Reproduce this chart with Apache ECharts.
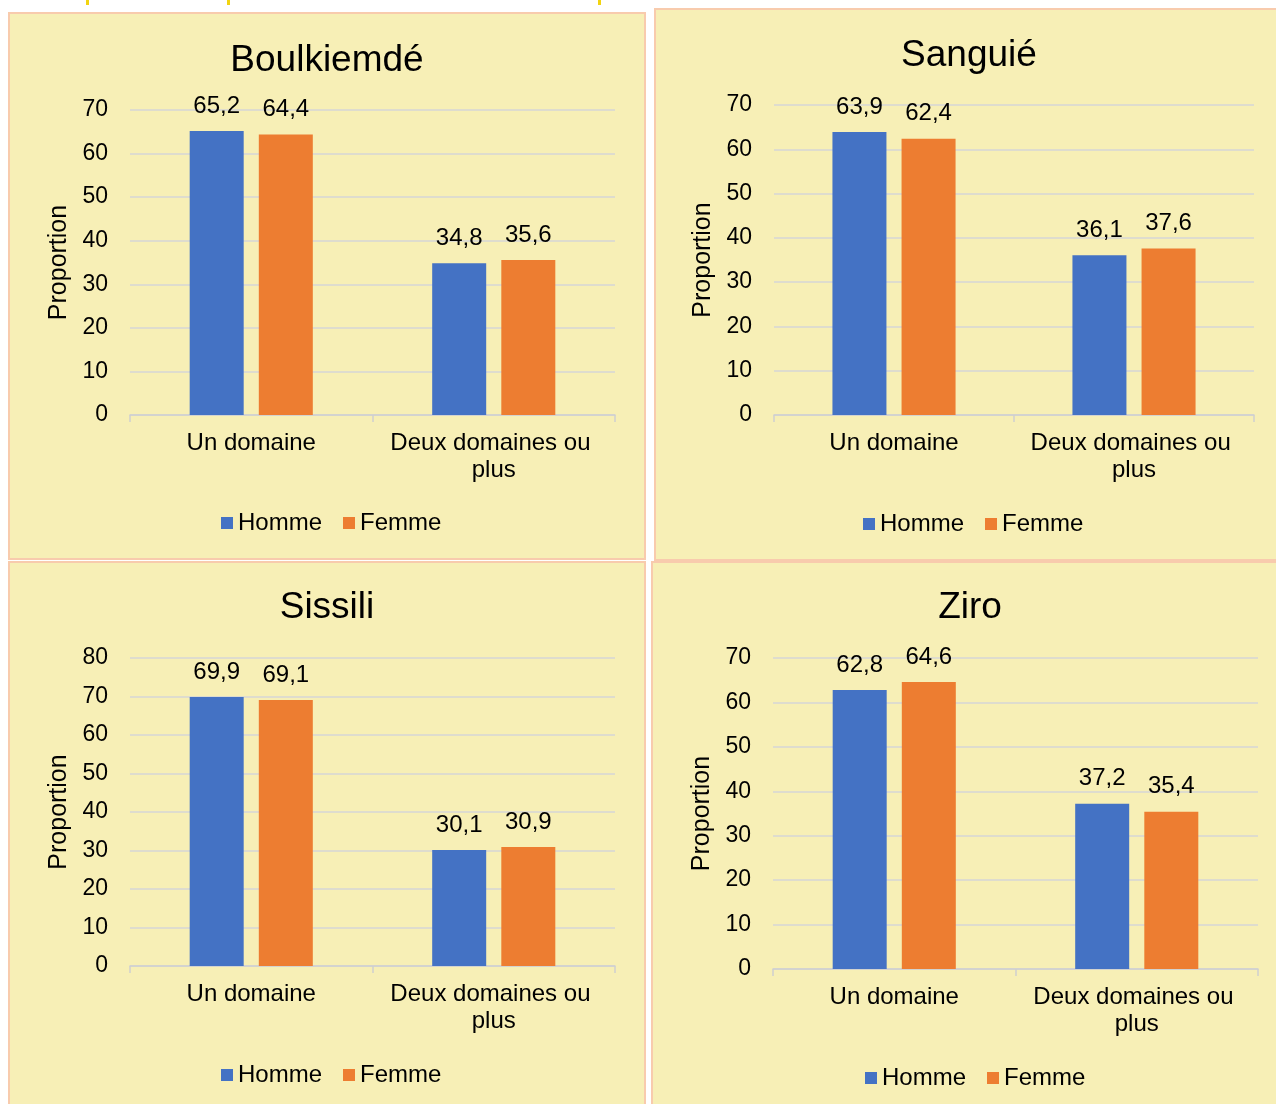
<!DOCTYPE html>
<html>
<head>
<meta charset="utf-8">
<script src="https://cdn.jsdelivr.net/npm/echarts@6/dist/echarts.min.js"></script>
<style>
  html, body { margin: 0; padding: 0; background: #ffffff; }
  #chart { width: 1276px; height: 1104px; }
</style>
</head>
<body>
<div id="chart"></div>
<script>
// Proportion of respondents by number of domains, by sex, for each province
const categories = ['Un domaine', 'Deux domaines ou plus'];
const seriesNames = ['Homme', 'Femme'];
const provinces = ['Boulkiemdé', 'Sanguié', 'Sissili', 'Ziro'];

const boulkiemdeHomme = [65.2, 34.8];
const boulkiemdeFemme = [64.4, 35.6];
const sanguieHomme = [63.9, 36.1];
const sanguieFemme = [62.4, 37.6];
const sissiliHomme = [69.9, 30.1];
const sissiliFemme = [69.1, 30.9];
const ziroHomme = [62.8, 37.2];
const ziroFemme = [64.6, 35.4];

const yMax = [70, 70, 80, 70];

const panelValues = [
  [boulkiemdeHomme, boulkiemdeFemme],
  [sanguieHomme, sanguieFemme],
  [sissiliHomme, sissiliFemme],
  [ziroHomme, ziroFemme]
];

const colors = ['#4472C4', '#ED7D31'];
const FONT = '"Liberation Sans", Arial, sans-serif';

// panel frames and plot areas
const panels = [
  { box: [9, 13, 636, 546], grid: { left: 130, right: 661, top: 110, bottom: 689 }, title: [327, 61], legend: [221, 511] },
  { box: [655, 9, 625, 551], grid: { left: 774, right: 22, top: 105, bottom: 689 }, title: [969, 56], legend: [863, 512] },
  { box: [9, 562, 636, 548], grid: { left: 130, right: 661, top: 658, bottom: 138 }, title: [327, 608], legend: [221, 1063] },
  { box: [652, 562, 628, 548], grid: { left: 773, right: 18, top: 658, bottom: 135 }, title: [970, 608], legend: [865, 1066] }
];

const option = {
  backgroundColor: '#ffffff',
  animation: false,
  textStyle: { fontFamily: FONT },
  title: panels.map((p, i) => ({
    text: provinces[i],
    left: p.title[0],
    top: p.title[1],
    padding: 0,
    textAlign: 'center',
    textVerticalAlign: 'middle',
    textStyle: { fontSize: 37, fontWeight: 'normal', color: '#000000', fontFamily: FONT }
  })),
  graphic: [
    ...panels.map(p => ({
      type: 'rect',
      z: -10,
      silent: true,
      shape: { x: p.box[0], y: p.box[1], width: p.box[2], height: p.box[3] },
      style: { fill: '#F7EFB6', stroke: '#F8CBAD', lineWidth: 2 }
    })),
    ...[86, 227, 598].map(x => ({
      type: 'rect', z: -5, silent: true,
      shape: { x: x, y: 0, width: 3, height: 5 },
      style: { fill: '#F2D410' }
    }))
  ],
  legend: panels.map((p, i) => ({
    data: seriesNames,
    left: p.legend[0],
    top: p.legend[1],
    padding: 0,
    icon: 'rect',
    itemWidth: 12,
    itemHeight: 12,
    itemGap: 21,
    textStyle: { fontSize: 24, color: '#000000', fontFamily: FONT }
  })),
  grid: panels.map(p => Object.assign({ containLabel: false }, p.grid)),
  xAxis: panels.map((p, i) => ({
    type: 'category',
    gridIndex: i,
    data: categories,
    axisLine: { lineStyle: { color: '#D0D0D0', width: 1.5 } },
    axisTick: { show: true, length: 7, lineStyle: { color: '#D0D0D0', width: 1.5 } },
    axisLabel: {
      interval: 0,
      fontSize: 24, color: '#000000', margin: 15, lineHeight: 27,
      width: 232, overflow: 'break', fontFamily: FONT
    }
  })),
  yAxis: panels.map((p, i) => ({
    type: 'value',
    gridIndex: i,
    min: 0,
    max: yMax[i],
    interval: 10,
    name: 'Proportion',
    nameLocation: 'middle',
    nameRotate: 90,
    nameGap: 58,
    nameTextStyle: { fontSize: 25, color: '#000000', fontFamily: FONT },
    axisLine: { show: false },
    axisTick: { show: false },
    axisLabel: { fontSize: 23, color: '#000000', margin: 22, fontFamily: FONT },
    splitLine: { lineStyle: { color: '#D6D6D6', width: 1.5 } }
  })),
  series: panelValues.flatMap((vals, i) => vals.map((data, s) => ({
    type: 'bar',
    name: seriesNames[s],
    xAxisIndex: i,
    yAxisIndex: i,
    data: data,
    barWidth: 54,
    barGap: '28%',
    itemStyle: { color: colors[s] },
    label: {
      show: true,
      position: 'top',
      distance: 13,
      fontSize: 24,
      color: '#000000',
      fontFamily: FONT,
      formatter: p => String(p.value).replace('.', ',')
    }
  })))
};

const chart = echarts.init(document.getElementById('chart'), null, { renderer: 'canvas' });
chart.setOption(option);
</script>
</body>
</html>
